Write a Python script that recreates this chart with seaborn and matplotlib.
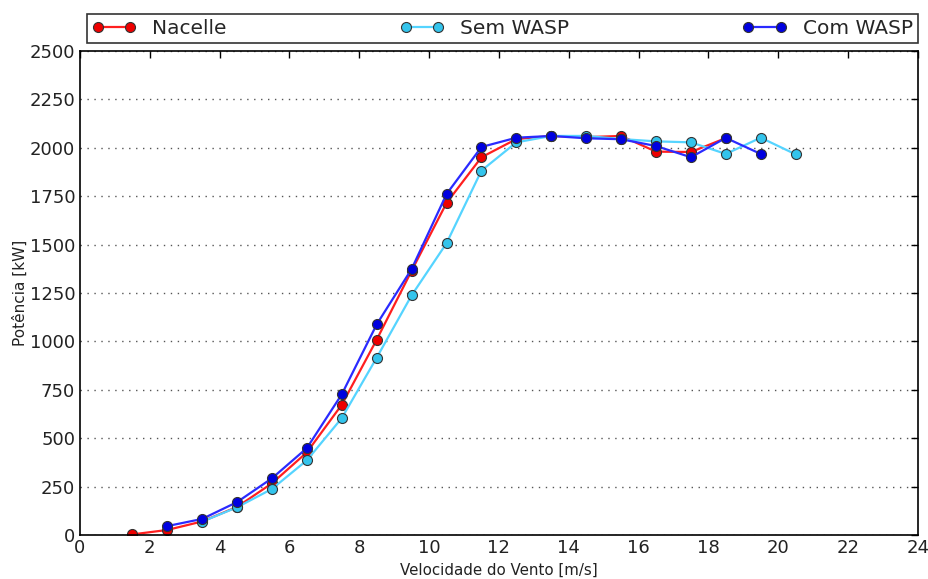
import matplotlib
matplotlib.use("Agg")
import matplotlib.pyplot as plt
import seaborn as sns
import pandas as pd

# Wind speed bins [m/s] and power curves [kW]
vel_nacelle = [1.5, 2.5, 3.5, 4.5, 5.5, 6.5, 7.5, 8.5, 9.5, 10.5, 11.5, 12.5, 13.5, 14.5, 15.5, 16.5, 17.5, 18.5]
pot_nacelle = [3, 26, 70, 145, 267, 427, 673, 1009, 1365, 1715, 1951, 2045, 2061, 2055, 2061, 1980, 1978, 2050]

vel_sem = [3.5, 4.5, 5.5, 6.5, 7.5, 8.5, 9.5, 10.5, 11.5, 12.5, 13.5, 14.5, 15.5, 16.5, 17.5, 18.5, 19.5, 20.5]
pot_sem = [69, 143, 238, 386, 604, 916, 1238, 1507, 1882, 2028, 2061, 2061, 2045, 2033, 2028, 1968, 2052, 1966]

vel_com = [2.5, 3.5, 4.5, 5.5, 6.5, 7.5, 8.5, 9.5, 10.5, 11.5, 12.5, 13.5, 14.5, 15.5, 16.5, 17.5, 18.5, 19.5]
pot_com = [46, 83, 170, 293, 449, 727, 1088, 1374, 1761, 2004, 2052, 2061, 2049, 2044, 2009, 1951, 2051, 1968]

series_names = ["Nacelle", "Sem WASP", "Com WASP"]
x_ticks = list(range(0, 25, 2))
y_ticks = list(range(0, 2501, 250))

sns.set_style("white")
plt.rcParams["font.family"] = ["DejaVu Sans"]
plt.rcParams["xtick.direction"] = "in"
plt.rcParams["ytick.direction"] = "in"

fig = plt.figure(figsize=(9.29, 5.79), dpi=100)
ax = fig.add_axes([0.0861, 0.076, 0.9019, 0.836])

styles = [
    dict(line="#ff1f1f", face="#ee0000"),
    dict(line="#55d4ff", face="#33c4ec"),
    dict(line="#2a2aff", face="#0000e0"),
]
datasets = [(vel_nacelle, pot_nacelle), (vel_sem, pot_sem), (vel_com, pot_com)]

for (xs, ys), name, st in zip(datasets, series_names, styles):
    df = pd.DataFrame({"vel": xs, "pot": ys})
    sns.lineplot(data=df, x="vel", y="pot", ax=ax, color=st["line"], linewidth=1.6,
                 marker="o", markersize=7.2, markerfacecolor=st["face"],
                 markeredgecolor="#333333", markeredgewidth=0.8, label=name)

ax.set_xlim(0, 24)
ax.set_ylim(0, 2500)
ax.set_xticks(x_ticks)
ax.set_yticks(y_ticks)
ax.tick_params(axis="both", labelsize=13, length=5, width=1, colors="black",
               top=True, right=True, labelcolor="#222222")
ax.tick_params(axis="x", pad=3)
ax.yaxis.grid(True, linestyle=(0, (1, 4)), color="#555555", linewidth=1)
ax.xaxis.grid(False)
for sp in ax.spines.values():
    sp.set_color("black")
    sp.set_linewidth(1.2)

ax.set_xlabel("Velocidade do Vento [m/s]", fontsize=10.8, color="#222222", labelpad=4)
ax.set_ylabel("Potência [kW]", fontsize=11, color="#222222", labelpad=1)

leg = ax.legend(loc="lower left", bbox_to_anchor=(0.008, 1.017, 0.992, 0.062), mode="expand",
                ncol=3, numpoints=2, fontsize=14.5, frameon=True, fancybox=False,
                borderaxespad=0, handlelength=2.2, handletextpad=0.8, borderpad=0.25)
leg.get_frame().set_edgecolor("black")
leg.get_frame().set_linewidth(1.2)

fig.savefig("out.png", dpi=100)
